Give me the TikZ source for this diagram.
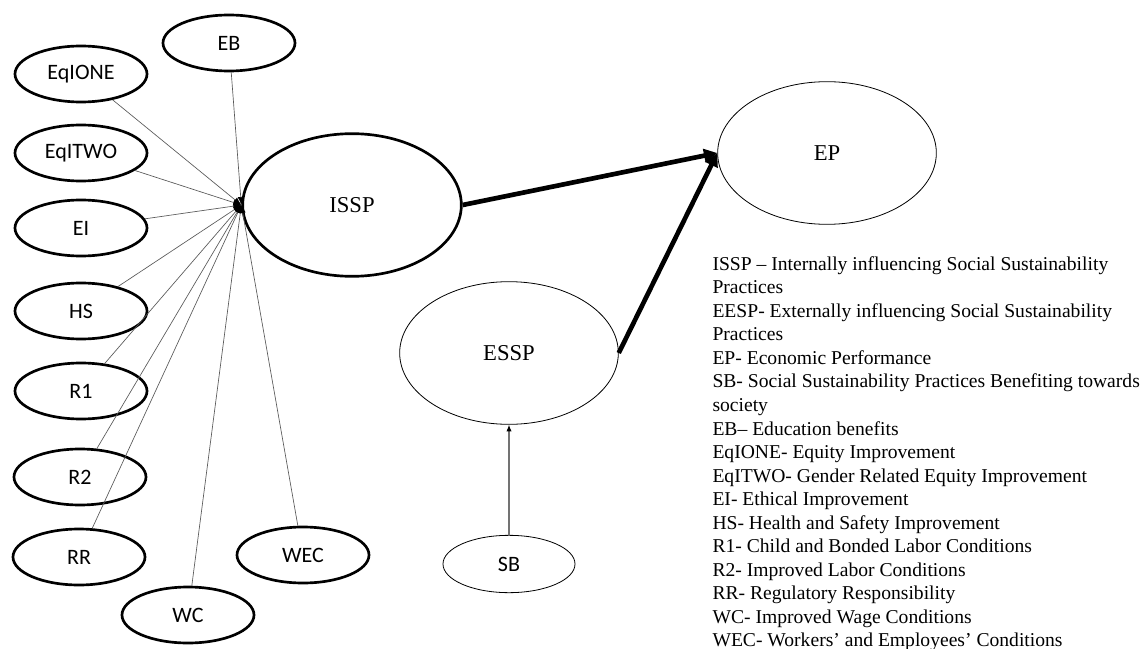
\documentclass[tikz,border=0pt]{standalone}
\usepackage{fontspec}
\setmainfont{Liberation Serif}
\newfontfamily\calibrifont{Carlito}
\usetikzlibrary{shapes.geometric,arrows.meta}

\tikzset{every picture/.style={line width=0.75pt}}
\tikzset{
  smallvar/.style={draw, ellipse, line width=2pt, inner sep=0pt, minimum width=99pt, minimum height=42pt, font=\calibrifont\fontsize{16.5}{18}\selectfont},
  bigvar/.style={draw, ellipse, inner sep=0pt, minimum width=164pt, minimum height=107pt, font=\fontsize{17}{19}\selectfont},
  itemline/.style={draw=black!65, line width=0.5pt, -{Latex[length=6pt,width=4.5pt,color=black]}},
  pathline/.style={line width=3.5pt, -{Triangle[length=10pt,width=10pt]}},
}

\begin{document}
\begin{tikzpicture}[x=0.75pt,y=0.75pt,yscale=-1,xscale=1]
    \useasboundingbox (0,0) rectangle (1142,649);

    % Construct nodes
    \node [bigvar, line width=2pt] (issp) at (352,205) {ISSP};
    \node [bigvar, line width=0.6pt] (essp) at (509,353) {ESSP};
    \node [bigvar, line width=0.6pt] (ep) at (827,153) {EP};
    \node [smallvar, line width=0.6pt, minimum height=43pt] (sb) at (509,564) {SB};

    % Item nodes
    \node [smallvar] (eb) at (229,43) {EB};
    \node [smallvar] (eqone) at (81,74) {EqIONE};
    \node [smallvar] (eqtwo) at (81,153) {EqITWO};
    \node [smallvar] (ei) at (81,228) {EI};
    \node [smallvar] (hs) at (81,311) {HS};
    \node [smallvar] (rone) at (81,391) {R1};
    \node [smallvar] (rtwo) at (80,477) {R2};
    \node [smallvar] (rr) at (79,557) {RR};
    \node [smallvar] (wc) at (188,615) {WC};
    \node [smallvar] (wec) at (303,555) {WEC};

    % Hub on the left of ISSP
    \coordinate (hub) at (issp.west);

    % Item lines
    \foreach \n in {eb,eqone,eqtwo,ei,hs,rone,rtwo,rr,wc,wec}
      \draw [itemline] (\n) -- (hub);

    % Paths
    \draw [pathline] (issp.east) -- (ep.west);
    \draw [pathline] (essp.east) -- (ep.west);
    \draw [draw=black!55, line width=0.8pt, -{Latex[length=5pt,width=4pt,color=black]}] (sb) -- (essp);

    % Text Node
    \node [anchor=north west, inner sep=0pt, align=left, font=\fontsize{14.7}{17.65}\selectfont] (legend) at (712,256) {ISSP -- Internally influencing Social Sustainability\\
Practices\\
EESP- Externally influencing Social Sustainability\\
Practices\\
EP- Economic Performance\\
SB- Social Sustainability Practices Benefiting towards\\
society\\
EB-- Education benefits\\
EqIONE- Equity Improvement\\
EqITWO- Gender Related Equity Improvement\\
EI- Ethical Improvement\\
HS- Health and Safety Improvement\\
R1- Child and Bonded Labor Conditions\\
R2- Improved Labor Conditions\\
RR- Regulatory Responsibility\\
WC- Improved Wage Conditions\\
WEC- Workers’ and Employees’ Conditions};

\end{tikzpicture}
\end{document}
